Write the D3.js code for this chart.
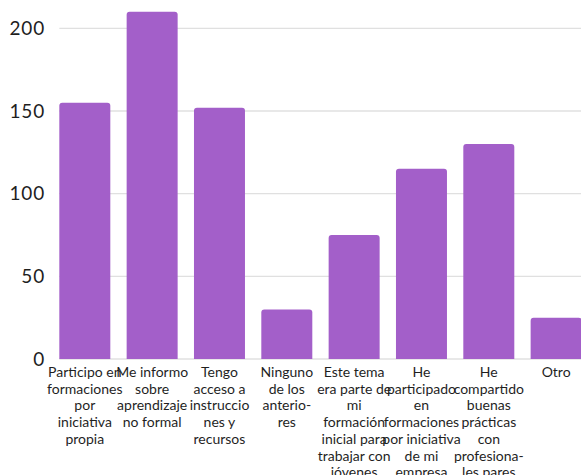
<!DOCTYPE html>
<html><head><meta charset="utf-8">
<script src="https://cdn.jsdelivr.net/npm/d3@7"></script>
<style>body{margin:0;background:#fff}svg{display:block}</style>
</head><body><svg id="c" width="581" height="475"></svg>
<script>
const categories = [
  ["Participo en","formaciones","por","iniciativa","propia"],
  ["Me informo","sobre","aprendizaje","no formal"],
  ["Tengo","acceso a","instruccio","nes y","recursos"],
  ["Ninguno","de los","anterio-","res"],
  ["Este tema","era parte de","mi","formación","inicial para","trabajar con","jóvenes"],
  ["He","participado","en","formaciones","por iniciativa","de mi","empresa"],
  ["He","compartido","buenas","prácticas","con","profesiona-","les pares"],
  ["Otro"]
];
const values = [155, 210, 152, 30, 75, 115, 130, 25];
const yTicks = [0, 50, 100, 150, 200];

const svg = d3.select("#c");
const font = "Lato, sans-serif";
const idx = categories.map((d,i)=>i);
const x = d3.scaleBand().domain(idx).range([51.15, 589.8]).paddingInner(0.2426).paddingOuter(0.1213);
const y = d3.scaleLinear().domain([0, 200]).range([359, 28.3]);

// grid
svg.append("g").selectAll("line").data(yTicks).join("line")
  .attr("x1", x(0)).attr("x2", 581)
  .attr("y1", d=>y(d)).attr("y2", d=>y(d))
  .attr("stroke", "#e0e0e0").attr("stroke-width", 1.3);

// y labels
svg.append("g").selectAll("text").data(yTicks).join("text")
  .attr("x", 45).attr("y", d=>y(d)).attr("dy", "0.36em")
  .attr("text-anchor", "end")
  .style("font-family", font).style("font-size", "19px").style("letter-spacing", "0.8px").attr("fill", "#1f1f1f")
  .text(d=>d);

// bars with rounded top corners
const r = 3;
svg.append("g").selectAll("path").data(values).join("path")
  .attr("fill", "#a35fc9")
  .attr("d", (v,i)=>{
    const x0 = x(i), w = x.bandwidth(), y0 = y(v), yb = y(0);
    return `M${x0},${yb}V${y0+r}Q${x0},${y0} ${x0+r},${y0}H${x0+w-r}Q${x0+w},${y0} ${x0+w},${y0+r}V${yb}Z`;
  });

// x labels
const lab = svg.append("g").selectAll("text").data(categories).join("text")
  .attr("text-anchor", "middle")
  .style("font-family", font).style("font-size", "14px").attr("fill", "#1f1f1f");
lab.each(function(lines, i){
  const t = d3.select(this);
  lines.forEach((ln, k)=>{
    t.append("tspan").attr("x", x(i) + x.bandwidth()/2)
      .attr("y", 372 + k*16.7).attr("dy", "0.36em").text(ln);
  });
});
</script></body></html>
